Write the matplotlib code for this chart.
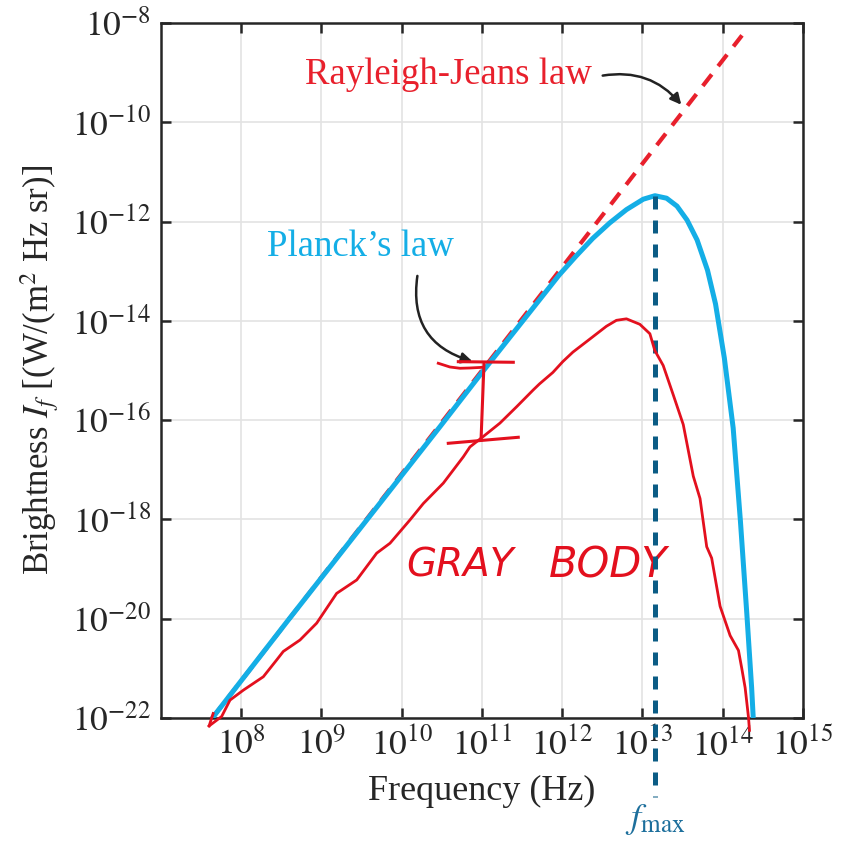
import numpy as np
import matplotlib.pyplot as plt

plt.rcParams['font.family'] = 'serif'
plt.rcParams['font.serif'] = ['Liberation Serif', 'DejaVu Serif']
plt.rcParams['mathtext.fontset'] = 'stix'

# values, as log10 exponents
planck_logf = [7.64, 8.58, 10.48, 11.01, 11.72, 11.96, 12.17, 12.38, 12.59, 12.80, 13.01,
               13.155, 13.30, 13.43, 13.555, 13.68, 13.81, 13.91, 14.02, 14.13, 14.22,
               14.30, 14.36, 14.38]
planck_logI = [-22.0, -20.04, -16.125, -15.02, -13.57, -13.08, -12.70, -12.34, -12.03, -11.76,
               -11.55, -11.48, -11.53, -11.69, -11.97, -12.37, -12.98, -13.66, -14.75, -16.16,
               -18.03, -19.90, -21.39, -22.0]

rj_logf = [7.64, 14.24]
rj_logI = [-22.0, -8.25]

fmax_logf = 13.155
fmax_logI = -11.48

# hand drawn "gray body" curve
gray_logf = [7.60, 7.756, 7.86, 8.026, 8.275, 8.442, 8.524, 8.732, 8.94, 9.189, 9.439,
             9.688, 9.854, 10.103, 10.269, 10.518, 10.767, 10.85, 11.016, 11.224, 11.432,
             11.64, 11.717, 11.883, 12.008, 12.133, 12.342, 12.55, 12.675, 12.80, 12.967,
             13.092, 13.154, 13.258, 13.383, 13.508, 13.633, 13.717, 13.80, 13.862, 13.967,
             14.092, 14.196, 14.238, 14.279, 14.321, 14.333]
gray_logI = [-22.16, -21.97, -21.64, -21.44, -21.17, -20.83, -20.66, -20.43, -20.09, -19.49,
             -19.22, -18.68, -18.48, -18.01, -17.68, -17.27, -16.74, -16.54, -16.33, -16.06,
             -15.73, -15.39, -15.27, -15.04, -14.82, -14.63, -14.37, -14.11, -13.99, -13.96,
             -14.07, -14.26, -14.60, -14.90, -15.49, -16.09, -17.13, -17.58, -18.55, -18.78,
             -19.75, -20.34, -20.64, -21.01, -21.39, -21.99, -22.25]

xtick_exp = [8, 9, 10, 11, 12, 13, 14, 15]
ytick_exp = [-8, -10, -12, -14, -16, -18, -20, -22]

blue = '#14aee6'
red = '#e8202c'
pen = '#e3101e'
dark = '#0b5c85'
ink = '#262626'

fig = plt.figure(figsize=(8.5, 8.41), dpi=100)
ax = fig.add_axes([0.1894, 0.1463, 0.7553, 0.8264])

p = lambda a: 10.0 ** np.array(a)

ax.plot(p(rj_logf), p(rj_logI), color=red, lw=3.0, ls=(0, (3.5, 2.5)), zorder=2)
ax.plot(p(planck_logf), p(planck_logI), color=blue, lw=3.6, zorder=3,
        solid_capstyle='butt', solid_joinstyle='round')
ax.plot([10**fmax_logf] * 2, [10**fmax_logI, 10**-23.6], color=dark, lw=3.6,
        ls=(0, (2.6, 2.2)), zorder=4, clip_on=False)

# pen marks
ax.plot(p(gray_logf), p(gray_logI), color=pen, lw=2.0, zorder=5, clip_on=False,
        solid_joinstyle='round')
ax.plot(p([7.60, 7.65]), p([-22.16, -21.91]), color=pen, lw=2.0, zorder=5, clip_on=False)
ax.plot(p([10.455, 10.60, 10.726, 10.85, 11.016]), p([-14.855, -14.93, -14.956, -14.95, -14.936]),
        color=pen, lw=2.0, zorder=5)
ax.plot(p([10.705, 11.39]), p([-14.823, -14.835]), color=pen, lw=2.2, zorder=5)
ax.plot(p([11.025, 10.988]), p([-14.855, -16.40]), color=pen, lw=2.2, zorder=5)
ax.plot(p([10.58, 11.452]), p([-16.467, -16.346]), color=pen, lw=2.2, zorder=5)
ax.text(10**10.73, 10**-18.92, 'GRAY', color=pen, fontsize=28, fontstyle='italic',
        family='DejaVu Sans', va='center', ha='center')
ax.text(10**12.57, 10**-18.92, 'BODY', color=pen, fontsize=30, fontstyle='italic',
        family='DejaVu Sans', va='center', ha='center')

# labels and arrows
ax.text(10**10.58, 10**-9.05, 'Rayleigh-Jeans law', color=red, fontsize=26.5,
        ha='center', va='center')
ax.text(10**9.48, 10**-12.51, 'Planck\u2019s law', color=blue, fontsize=26.5,
        ha='center', va='center')
ax.annotate('', xy=(10**13.505, 10**-9.69), xytext=(10**12.47, 10**-9.07),
            arrowprops=dict(arrowstyle='-|>', color='#222222', lw=1.8,
                            connectionstyle='arc3,rad=-0.3', mutation_scale=16))
ax.annotate('', xy=(10**10.913, 10**-14.83), xytext=(10**10.20, 10**-13.04),
            arrowprops=dict(arrowstyle='-|>', color='#222222', lw=1.8,
                            connectionstyle='arc3,rad=0.45', mutation_scale=16))
ax.text(10**fmax_logf, 10**-24.05, r'$f_{\mathrm{max}}$', color='#1d6f9c', fontsize=26,
        ha='center', va='center', clip_on=False)

ax.set_xscale('log')
ax.set_yscale('log')
ax.set_xlim(1e7, 1e15)
ax.set_ylim(1e-22, 1e-8)
ax.set_xticks([10.0**e for e in xtick_exp])
ax.set_xticklabels([f'$10^{{{e}}}$' for e in xtick_exp])
ax.set_yticks([10.0**e for e in ytick_exp])
ax.set_yticklabels([f'$10^{{{e}}}$' for e in ytick_exp])
ax.minorticks_off()
ax.tick_params(which='major', direction='in', length=7, width=1.8, top=True, right=True,
               labelsize=25.5, colors=ink, pad=7)
ax.grid(True, color='#e3e3e3', lw=1.2)
for s in ax.spines.values():
    s.set_linewidth(1.8)
    s.set_color(ink)

ax.set_xlabel('Frequency (Hz)', fontsize=26, color=ink, labelpad=8)
ax.set_ylabel(r'Brightness $I_f$ [(W/(m$^2$ Hz sr)]', fontsize=25, color=ink, labelpad=8)

fig.savefig('out.png', dpi=100)
